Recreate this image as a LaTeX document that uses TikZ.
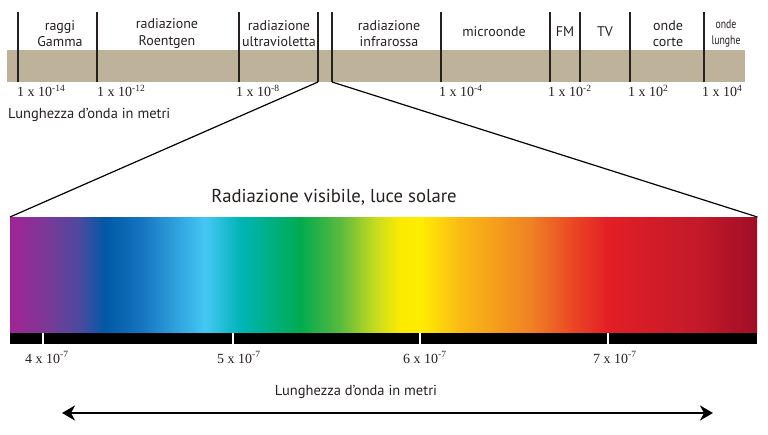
\documentclass[tikz,border=0pt]{standalone}
\usepackage{fontspec}
\setmainfont{PT Sans}
\newfontfamily\numfont{Liberation Serif}
\usepackage{graphicx}
\usetikzlibrary{arrows.meta}

\definecolor{bandtan}{RGB}{190,178,155}
\definecolor{ink}{RGB}{38,32,30}

\pgfdeclarehorizontalshading{visspec}{100bp}{
 rgb(0bp)=(.63,.14,.59);
 rgb(25bp)=(.63,.14,.59);
 rgb(27.34bp)=(.49,.22,.59);
 rgb(29.69bp)=(.29,.29,.63);
 rgb(31.36bp)=(0,.35,.65);
 rgb(33.70bp)=(.08,.45,.75);
 rgb(38.05bp)=(.27,.78,.96);
 rgb(40.39bp)=(0,.71,.72);
 rgb(44.41bp)=(0,.67,.31);
 rgb(47.09bp)=(.35,.73,.24);
 rgb(49.43bp)=(.78,.86,.12);
 rgb(51.10bp)=(.98,.92,0);
 rgb(52.44bp)=(1,.93,0);
 rgb(55.12bp)=(.98,.73,.08);
 rgb(59.81bp)=(.94,.51,.14);
 rgb(62.48bp)=(.92,.29,.14);
 rgb(64.96bp)=(.89,.12,.15);
 rgb(71.18bp)=(.76,.10,.16);
 rgb(75bp)=(.63,.05,.15);
 rgb(100bp)=(.63,.05,.15)}

\newcommand{\supnum}[1]{\raisebox{0.42em}{\fontsize{9.5}{10}\selectfont #1}}

\tikzset{
  bandlabel/.style={inner sep=0pt, align=center, text=ink,
    font=\fontsize{14}{16.5}\selectfont},
  numlabel/.style={inner sep=0pt, anchor=base west, text=ink,
    font=\numfont\fontsize{14}{16}\selectfont},
  divider/.style={line width=1.8pt, draw=ink},
  zoomline/.style={line width=1.2pt, draw=black},
  gap/.style={line width=2pt, draw=white},
  axislabel/.style={inner sep=0pt, anchor=base west, text=ink,
    font=\fontsize{14.5}{16}\selectfont},
}

\begin{document}
\begin{tikzpicture}[x=1pt,y=-1pt]
\useasboundingbox (0,0) rectangle (768,435);

% top band
\node[fill=bandtan, minimum width=738pt, minimum height=32pt, inner sep=0pt,
      anchor=north west] (band) at (7,50) {};

% dividers
\foreach \xx in {18,97,239,318,332,441,550,580,630,704}
  \draw[divider] (\xx,12) -- (\xx,82.5);

% band labels
\node[bandlabel] (gamma) at (60,33.5) {raggi\\Gamma};
\node[bandlabel] (roent) at (167,33.5) {radiazione\\Roentgen};
\node[bandlabel] (uv) at (279,33.5) {radiazione\\ultravioletta};
\node[bandlabel] (ir) at (389,33.5) {radiazione\\infrarossa};
\node[bandlabel, anchor=base] (micro) at (494,37) {microonde};
\node[bandlabel, anchor=base] (fm) at (565,37) {FM};
\node[bandlabel, anchor=base] (tv) at (605,37) {TV};
\node[bandlabel] (corte) at (668,33.5) {onde\\corte};
\node[bandlabel, font=\fontsize{12.5}{16}\selectfont] (lunghe) at (726,33.5)
  {\scalebox{0.78}[1]{onde}\\\scalebox{0.78}[1]{lunghe}};

% top tick values
\node[numlabel] (t14) at (17,97) {1 x 10\supnum{-14}};
\node[numlabel] (t12) at (97,97) {1 x 10\supnum{-12}};
\node[numlabel] (t8) at (236,97) {1 x 10\supnum{-8}};
\node[numlabel] (t4) at (439,97) {1 x 10\supnum{-4}};
\node[numlabel] (t2) at (548,97) {1 x 10\supnum{-2}};
\node[numlabel] (tp2) at (628,97) {1 x 10\supnum{2}};
\node[numlabel] (tp4) at (702,97) {1 x 10\supnum{4}};

\node[axislabel] (axtop) at (8,118.5) {Lunghezza d'onda in metri};

% visible spectrum
\node[shading=visspec, minimum width=747pt, minimum height=116pt, inner sep=0pt,
      anchor=north west] (spec) at (10,217) {};
\node[inner sep=0pt, anchor=base, text=ink, font=\fontsize{18.7}{20}\selectfont]
  (vistitle) at (334,203) {Radiazione visibile, luce solare};

% zoom lines
\coordinate (uvL) at (318,82);
\coordinate (uvR) at (332,82);
\draw[zoomline] (uvL) -- (spec.north west);
\draw[zoomline] (uvR) -- (spec.north east);

% black scale bar
\node[fill=black, minimum width=747pt, minimum height=11pt, inner sep=0pt,
      anchor=north west] (bar) at (10,333) {};
\foreach \xx in {43,232.5,420,608}
  \draw[gap] (\xx,333) -- (\xx,344.5);

\node[numlabel] (v4) at (25,363) {4 x 10\supnum{-7}};
\node[numlabel] (v5) at (217,363) {5 x 10\supnum{-7}};
\node[numlabel] (v6) at (403,363) {6 x 10\supnum{-7}};
\node[numlabel] (v7) at (593,363) {7 x 10\supnum{-7}};

% bottom axis
\node[axislabel, anchor=base] (axbot) at (356,395) {Lunghezza d'onda in metri};
\coordinate (arrL) at (62,413);
\coordinate (arrR) at (713,413);
\draw[line width=2.4pt, {Stealth[length=13pt,width=15pt,inset=4pt]}-{Stealth[length=13pt,width=15pt,inset=4pt]}]
  (arrL) -- (arrR);
\end{tikzpicture}
\end{document}
